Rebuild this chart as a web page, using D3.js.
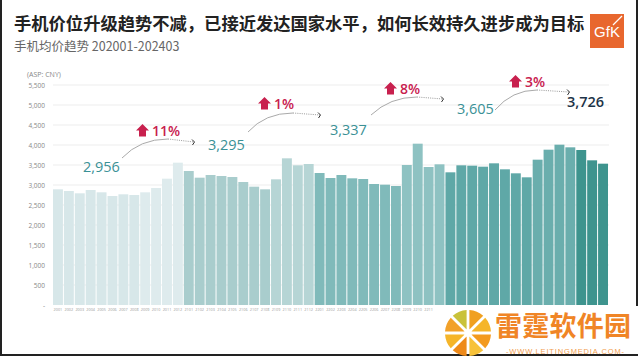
<!DOCTYPE html>
<html><head><meta charset="utf-8">
<script src="https://cdn.jsdelivr.net/npm/d3@7"></script>
<style>html,body{margin:0;padding:0;background:#fff;}svg{display:block;}</style>
</head><body>
<svg id="c" width="640" height="359"></svg>
<script>
const months = ["2001","2002","2003","2004","2005","2006","2007","2008","2009","2010","2011","2012",
"2101","2102","2103","2104","2105","2106","2107","2108","2109","2110","2111","2112",
"2201","2202","2203","2204","2205","2206","2207","2208","2209","2210","2211","2212",
"2301","2302","2303","2304","2305","2306","2307","2308","2309","2310","2311","2312",
"2401","2402","2403"];
const asp = [2892,2850,2792,2875,2817,2725,2767,2750,2817,2925,3158,3558,
3350,3183,3250,3225,3200,3075,2958,2892,3142,3667,3492,3525,
3300,3175,3250,3167,3150,3025,3008,2975,3500,4033,3450,3517,
3317,3492,3483,3458,3542,3392,3292,3192,3633,3883,4008,3942,
3875,3617,3533];
const yearAvgLabels = ["2,956","3,295","3,337","3,605","3,726"];
const growthLabels = ["11%","1%","8%","3%"];
const yTicks = [0,500,1000,1500,2000,2500,3000,3500,4000,4500,5000,5500];
const yearColors = ["#d7e7e9","#a9cdcd","#80baba","#5fa8a7","#3e948e"];
const yearColorsLate = ["#deebed","#b6d5d5","#8ec2c2","#6aaead","#3e948e"];

const svg = d3.select("#c");
const x = d3.scaleBand().domain(months).range([53, 608]).paddingInner(0.09);
const y = d3.scaleLinear().domain([0,5500]).range([305,85]);

// gridlines
svg.append("g").selectAll("line").data(yTicks.filter(d=>d>0)).join("line")
  .attr("x1",53).attr("x2",609).attr("y1",d=>y(d)).attr("y2",d=>y(d))
  .attr("stroke","#ededed").attr("stroke-width",1);

// y labels
svg.append("g").selectAll("text").data(yTicks).join("text")
  .attr("x",45).attr("y",d=>y(d)+2.5).attr("text-anchor","end")
  .attr("font-family","Open Sans").attr("font-size",6.5).attr("fill","#888")
  .text(d=>d===0?"-":d3.format(",")(d));
svg.append("text").attr("x",27).attr("y",77).attr("font-family","Open Sans")
  .attr("font-size",7).attr("fill","#888").text("(ASP: CNY)");

// bars
svg.append("g").selectAll("rect").data(asp).join("rect")
  .attr("x",(d,i)=>x(months[i])).attr("width",x.bandwidth())
  .attr("y",d=>y(d)).attr("height",d=>y(0)-y(d))
  .attr("fill",(d,i)=>{const yr=Math.floor(i/12), m=i%12; return m>=8?yearColorsLate[yr]:yearColors[yr];});

// x labels (those under the watermark are hidden in the reference)
svg.append("g").selectAll("text").data(months.filter(d=>x(d)+x.bandwidth() < 440)).join("text")
  .attr("x",d=>x(d)+x.bandwidth()/2).attr("y",311).attr("text-anchor","middle")
  .attr("font-family","Open Sans").attr("font-size",3.8).attr("fill","#999").text(d=>d);

// title
svg.append("text").attr("x",14).attr("y",30).attr("font-family","Noto Sans CJK SC")
  .attr("font-weight",700).attr("font-size",17.3).attr("fill","#222")
  .text("手机价位升级趋势不减，已接近发达国家水平，如何长效持久进步成为目标");
svg.append("text").attr("x",14).attr("y",51).attr("font-family","Noto Sans CJK SC")
  .attr("font-size",12.5).attr("fill","#666").text("手机均价趋势 202001-202403");

// GfK logo
const lg = svg.append("g");
lg.append("rect").attr("x",590).attr("y",14).attr("width",34).attr("height",34).attr("fill","#e8672e");
lg.append("text").attr("x",607).attr("y",37).attr("text-anchor","middle").attr("font-family","Liberation Sans Narrow, Liberation Sans")
  .attr("font-size",15).attr("fill","#fff").attr("textLength",26).text("GfK");
lg.append("line").attr("x1",613).attr("y1",25).attr("x2",622).attr("y2",16).attr("stroke","#fff").attr("stroke-width",1.2);

// annotations
const valPos = [[83,172],[208,150],[330,135],[457,114],[567,107]];
svg.append("g").selectAll("text").data(yearAvgLabels).join("text")
  .attr("x",(d,i)=>valPos[i][0]).attr("y",(d,i)=>valPos[i][1])
  .attr("font-family","Open Sans").attr("font-size",14.5).attr("font-weight",(d,i)=>i===4?600:500)
  .attr("fill",(d,i)=>i===4?"#1c3347":"#3a9196").text(d=>d);

const pctPos = [[136,124],[258,97],[384,82],[509,75]];
const pg = svg.append("g");
growthLabels.forEach((t,i)=>{
  const [px,py]=pctPos[i];
  pg.append("path").attr("d",`M${px+6.5},${py} L${px+13},${py+6.5} L${px+10},${py+6.5} L${px+10},${py+12.5} L${px+3},${py+12.5} L${px+3},${py+6.5} L${px},${py+6.5} Z`).attr("fill","#c8204e");
  pg.append("text").attr("x",px+16).attr("y",py+12).attr("font-family","Open Sans").attr("font-weight",600)
    .attr("font-size",14).attr("fill","#c8204e").text(t);
});

const arrows = [
  {s:[122,158],c:[140,139],m:[168,139],e:[194,142]},
  {s:[248,132],c:[265,113],m:[293,113],e:[320,115]},
  {s:[371,115],c:[390,97],m:[417,97],e:[443,99]},
  {s:[495,110],c:[512,90],m:[537,90],e:[569,92]}
];
const ag = svg.append("g");
arrows.forEach(a=>{
  ag.append("path").attr("d",`M${a.s} Q${a.c} ${a.m}`).attr("fill","none").attr("stroke","#aaa").attr("stroke-width",1);
  ag.append("line").attr("x1",a.m[0]).attr("y1",a.m[1]).attr("x2",a.e[0]).attr("y2",a.e[1])
    .attr("stroke","#999").attr("stroke-width",1).attr("stroke-dasharray","1,1.2");
  ag.append("path").attr("d",`M${a.e[0]-2},${a.e[1]-2.5} L${a.e[0]+0.5},${a.e[1]} L${a.e[0]-1.5},${a.e[1]+3}`)
    .attr("fill","none").attr("stroke","#333").attr("stroke-width",1);
});

// frame
svg.append("rect").attr("x",1).attr("y",-5).attr("width",636).attr("height",360)
  .attr("fill","none").attr("stroke","#222").attr("stroke-width",2);

// watermark
const wm = svg.append("g");
wm.append("rect").attr("x",440).attr("y",306).attr("width",200).attr("height",48).attr("fill","#fff");
const wcx=468, wcy=333;
const wedgeCols=["#f0a020","#f5b52a","#f39a1e","#f7c23a","#ee8a1a","#f5b52a","#f2a12a","#c9c23a"];
const arc = d3.arc().innerRadius(4).outerRadius(23).padAngle(0.12);
d3.range(8).forEach(k=>{
  wm.append("path").attr("transform",`translate(${wcx},${wcy})`)
    .attr("d",arc({startAngle:k*Math.PI/4,endAngle:(k+1)*Math.PI/4})).attr("fill",wedgeCols[k]);
});
wm.append("text").attr("x",495).attr("y",336).attr("font-family","Noto Sans CJK SC").attr("font-weight",700)
  .attr("font-size",27).attr("textLength",136).attr("fill","#f08526").text("雷霆软件园");
wm.append("text").attr("x",565).attr("y",354).attr("text-anchor","middle").attr("font-family","Liberation Sans")
  .attr("font-size",7.5).attr("textLength",118).attr("fill","#f2a050").text("-WWW.LEITINGMEDIA.COM-");
</script>
</body></html>
